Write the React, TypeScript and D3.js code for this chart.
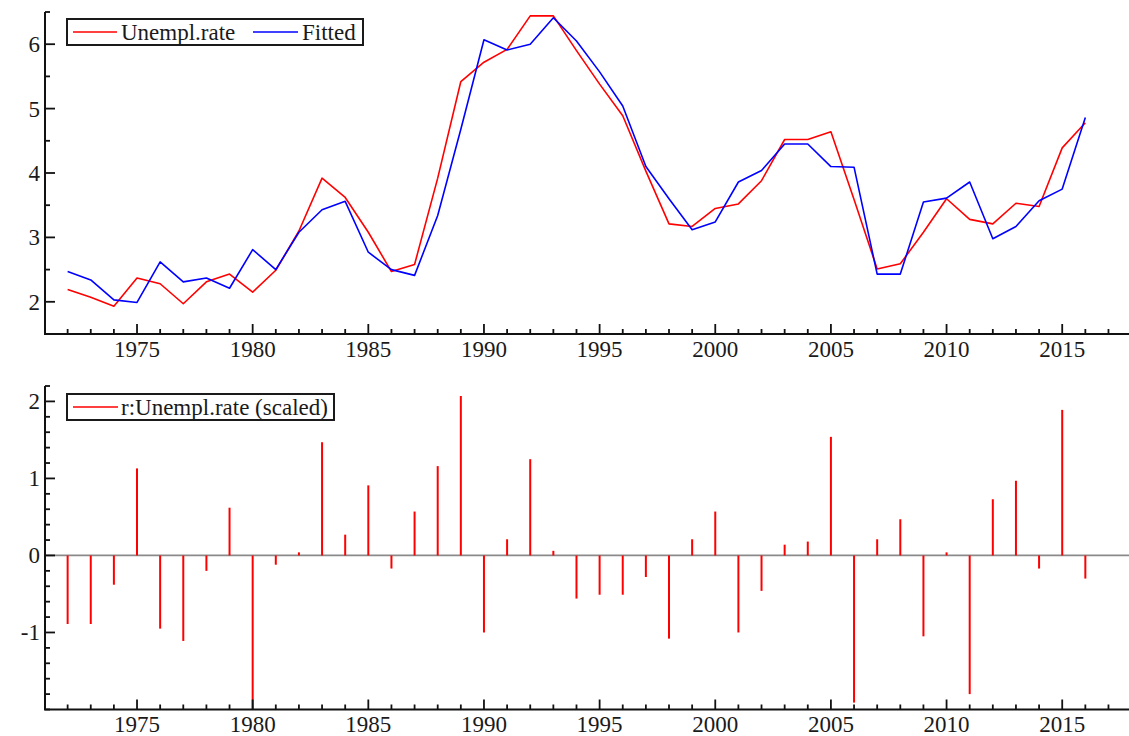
import React from 'react';
import * as d3 from 'd3';

const years = [1972,1973,1974,1975,1976,1977,1978,1979,1980,1981,1982,1983,1984,1985,1986,1987,1988,1989,1990,1991,1992,1993,1994,1995,1996,1997,1998,1999,2000,2001,2002,2003,2004,2005,2006,2007,2008,2009,2010,2011,2012,2013,2014,2015,2016];

const unemplRate = [2.19,2.07,1.93,2.37,2.28,1.97,2.31,2.43,2.15,2.49,3.10,3.92,3.62,3.08,2.47,2.58,3.92,5.42,5.72,5.92,6.44,6.44,5.90,5.38,4.89,4.03,3.21,3.17,3.45,3.52,3.88,4.52,4.52,4.64,3.59,2.51,2.59,3.08,3.60,3.28,3.21,3.53,3.48,4.39,4.78];

const fitted = [2.47,2.34,2.03,1.99,2.62,2.31,2.37,2.21,2.81,2.50,3.08,3.43,3.56,2.77,2.50,2.41,3.34,4.68,6.07,5.91,6.00,6.41,6.05,5.57,5.04,4.10,3.60,3.12,3.24,3.86,4.04,4.45,4.45,4.10,4.09,2.43,2.43,3.55,3.61,3.86,2.98,3.17,3.57,3.75,4.86];

const residuals = [-0.89,-0.89,-0.38,1.13,-0.95,-1.11,-0.20,0.62,-2.00,-0.12,0.04,1.47,0.27,0.91,-0.17,0.57,1.16,2.07,-1.00,0.21,1.25,0.06,-0.56,-0.51,-0.51,-0.28,-1.08,0.21,0.57,-1.00,-0.46,0.14,0.18,1.54,-1.91,0.21,0.47,-1.05,0.04,-1.80,0.73,0.97,-0.17,1.89,-0.30];

const xMajorTicks = [1975,1980,1985,1990,1995,2000,2005,2010,2015];
const xMinorTicks = [1972,1973,1974,1976,1977,1978,1979,1981,1982,1983,1984,1986,1987,1988,1989,1991,1992,1993,1994,1996,1997,1998,1999,2001,2002,2003,2004,2006,2007,2008,2009,2011,2012,2013,2014,2016,2017];
const topMajorTicks = [2,3,4,5,6];
const topMinorTicks = [1.5,2.5,3.5,4.5,5.5,6.5];
const botMajorTicks = [-1,0,1,2];
const botMinorTicks = [-2,-1.8,-1.6,-1.4,-1.2,-0.8,-0.6,-0.4,-0.2,0.2,0.4,0.6,0.8,1.2,1.4,1.6,1.8,2.2];

const TXT = '#1a1a1a';
const textStyle: React.CSSProperties = { fontFamily: "'Liberation Serif', 'DejaVu Serif', serif", fontSize: '23px' };

const W = 1129;
const H = 736;
const LEFT = 45;

const x = d3.scaleLinear().domain([1971, 2018]).range([44.5, 1131.6]);
const yTop = d3.scaleLinear().domain([1.5, 6.5]).range([334, 12]);
const yBot = d3.scaleLinear().domain([-2, 2.2]).range([709.5, 386]);

const fmt = (v: number) => (v < 0 ? '-' + Math.abs(v) : String(v));

function Axes({ y, major, minor, top, bottom, labelDy }: any) {
  return (
    <g>
      <line x1={LEFT} x2={LEFT} y1={top} y2={bottom} stroke="#111" strokeWidth={2} />
      {major.map((v: number) => (
        <g key={'ym' + v}>
          <line x1={LEFT} x2={LEFT + 10} y1={y(v)} y2={y(v)} stroke="#111" strokeWidth={1.8} />
          <text x={40} y={y(v) + 8} textAnchor="end" style={textStyle} fill={TXT}>{fmt(v)}</text>
        </g>
      ))}
      {minor.map((v: number) => (
        <line key={'yn' + v} x1={LEFT} x2={LEFT + 5} y1={y(v)} y2={y(v)} stroke="#111" strokeWidth={1.8} />
      ))}
      <line x1={LEFT - 1} x2={W} y1={bottom} y2={bottom} stroke="#111" strokeWidth={2} />
      {xMajorTicks.map((v) => (
        <g key={'xm' + v}>
          <line x1={x(v)} x2={x(v)} y1={bottom} y2={bottom - 10} stroke="#111" strokeWidth={1.8} />
          <text x={x(v)} y={bottom + labelDy} textAnchor="middle" style={textStyle} fill={TXT}>{v}</text>
        </g>
      ))}
      {xMinorTicks.map((v) => (
        <line key={'xn' + v} x1={x(v)} x2={x(v)} y1={bottom} y2={bottom - 5} stroke="#111" strokeWidth={1.8} />
      ))}
    </g>
  );
}

export default function App() {
  const lineTop = (vals: number[]) =>
    d3.line<number>().x((_, i) => x(years[i])).y((d) => yTop(d))(vals) || '';

  return (
    <svg width={W} height={H} style={{ position: 'absolute', left: 0, top: 0, background: '#fff' }}>
      <rect x={0} y={0} width={W} height={H} fill="#fff" />
      <path d={lineTop(unemplRate)} fill="none" stroke="#ff0000" strokeWidth={1.6} strokeLinejoin="round" />
      <path d={lineTop(fitted)} fill="none" stroke="#0000ff" strokeWidth={1.6} strokeLinejoin="round" />
      <Axes y={yTop} major={topMajorTicks} minor={topMinorTicks} top={12} bottom={334} labelDy={23} />
      <g>
        <rect x={67} y={19} width={296} height={26} fill="#fff" stroke="#1a1a1a" strokeWidth={2} />
        <line x1={73} x2={117} y1={32} y2={32} stroke="#ff0000" strokeWidth={1.6} />
        <text x={121} y={39.5} style={textStyle} fill={TXT}>Unempl.rate</text>
        <line x1={253} x2={298} y1={32} y2={32} stroke="#0000ff" strokeWidth={1.6} />
        <text x={302} y={39.5} style={textStyle} fill={TXT}>Fitted</text>
      </g>

      <line x1={LEFT} x2={W} y1={yBot(0)} y2={yBot(0)} stroke="#8a8a8a" strokeWidth={1.8} />
      {residuals.map((r, i) => (
        <line key={'r' + i} x1={x(years[i])} x2={x(years[i])} y1={yBot(0)} y2={yBot(Math.max(r, -2))} stroke="#ff0000" strokeWidth={2} />
      ))}
      <Axes y={yBot} major={botMajorTicks} minor={botMinorTicks} top={386} bottom={709.5} labelDy={22} />
      <g>
        <rect x={67} y={394} width={267} height={26} fill="#fff" stroke="#1a1a1a" strokeWidth={2} />
        <line x1={73} x2={118} y1={407} y2={407} stroke="#ff0000" strokeWidth={1.6} />
        <text x={121} y={414.5} style={textStyle} fill={TXT}>r:Unempl.rate (scaled)</text>
      </g>
    </svg>
  );
}
